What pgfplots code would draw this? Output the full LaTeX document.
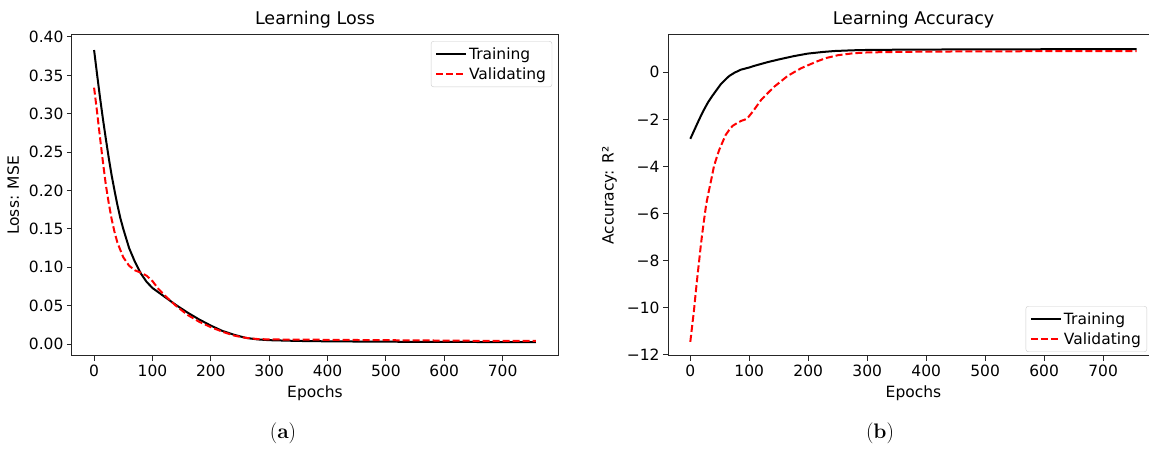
\documentclass[border=0pt]{standalone}
\usepackage{fontspec}
\setsansfont{DejaVu Sans}
\usepackage{pgfplots}
\pgfplotsset{compat=1.18}
\pgfplotsset{
  mpl/.style={
    scale only axis, anchor=south west, height=321pt,
    xmin=-37.85, xmax=794.85,
    tick pos=left, tick align=outside, major tick length=5pt,
    axis line style={black!85, line width=1pt},
    tick style={black!85, line width=1pt},
    tick label style={font=\sffamily\fontsize{15.5}{18}\selectfont},
    label style={font=\sffamily\fontsize{15.5}{18}\selectfont},
    xlabel style={yshift=-3pt},
    ylabel style={yshift=3pt},
    title style={font=\sffamily\fontsize{17.5}{20}\selectfont, yshift=-3pt},
    xtick={0,100,...,700},
    xticklabels={0,100,200,300,400,500,600,700},
    xlabel={Epochs},
    legend cell align=left,
    legend image code/.code={\draw[##1] (0pt,0pt) -- (30pt,0pt);},
    legend style={draw=black!20, rounded corners=2.5pt,
      font=\sffamily\fontsize{15.5}{18}\selectfont,
      inner xsep=4pt, inner ysep=4pt, row sep=3pt},
  },
  trn/.style={black, line width=2pt, no marks},
  val/.style={red, line width=2pt, dash pattern=on 7pt off 3pt, no marks},
}
\begin{document}
\begin{tikzpicture}[x=1pt,y=1pt]
\begin{axis}[mpl, at={(72pt,93pt)}, width=486pt,
  ymin=-0.0156, ymax=0.4026,
  ytick={0,0.05,...,0.4},
  yticklabels={0.00,0.05,0.10,0.15,0.20,0.25,0.30,0.35,0.40},
  ylabel={Loss: MSE},
  title={Learning Loss},
  legend style={at={(0.988,0.981)}, anchor=north east},
]
\addplot[trn] coordinates {
(0,0.383) (5,0.352) (10,0.322) (15,0.294) (20,0.268) (25,0.243) (30,0.220)
(35,0.200) (40,0.181) (45,0.164) (50,0.150) (60,0.125) (70,0.107) (80,0.092)
(90,0.081) (100,0.073) (120,0.062) (140,0.051) (160,0.041) (180,0.032)
(200,0.024) (220,0.017) (240,0.012) (260,0.008) (280,0.006) (300,0.005)
(350,0.004) (400,0.0035) (500,0.003) (600,0.0028) (700,0.0025) (757,0.0024)};
\addlegendentry{Training}
\addplot[val] coordinates {
(0,0.334) (5,0.303) (10,0.270) (15,0.238) (20,0.208) (25,0.184) (30,0.163)
(35,0.146) (40,0.132) (50,0.113) (60,0.102) (70,0.096) (80,0.093) (90,0.089)
(100,0.082) (110,0.072) (120,0.064) (140,0.050) (160,0.038) (180,0.029)
(200,0.022) (220,0.016) (240,0.011) (260,0.008) (280,0.0065) (300,0.006)
(400,0.0055) (500,0.005) (600,0.0045) (700,0.004) (757,0.004)};
\addlegendentry{Validating}
\end{axis}
\begin{axis}[mpl, at={(668pt,93pt)}, width=491pt,
  ymin=-12.05, ymax=1.58,
  ytick={-12,-10,...,0},
  yticklabels={−12,−10,−8,−6,−4,−2,0},
  ylabel={Accuracy: R²},
  title={Learning Accuracy},
  legend style={at={(0.9756,0.0125)}, anchor=south east},
]
\addplot[trn] coordinates {
(0,-2.83) (6,-2.50) (12,-2.17) (18,-1.85) (23,-1.60) (30,-1.28) (37.5,-1.0)
(45,-0.74) (52,-0.50) (60,-0.30) (66,-0.16) (75,-0.02) (86,0.11) (100,0.20)
(108.5,0.27) (130,0.42) (148,0.53) (175,0.68) (199,0.79) (225,0.86)
(245,0.90) (275,0.93) (300,0.945) (350,0.955) (400,0.962) (500,0.97)
(600,0.975) (700,0.977) (757,0.978)};
\addlegendentry{Training}
\addplot[val] coordinates {
(0,-11.45) (3,-10.8) (6.25,-10.1) (9,-9.4) (12,-8.68) (15,-8.0) (17.6,-7.4)
(20,-6.9) (23.3,-6.27) (27,-5.6) (31.8,-5.0) (36,-4.5) (40,-4.0) (45,-3.6)
(49,-3.3) (55,-2.95) (60,-2.66) (66,-2.45) (71.6,-2.28) (80,-2.15) (86,-2.07)
(96,-1.98) (106,-1.67) (120,-1.18) (130,-0.92) (142.6,-0.61) (155,-0.36)
(165,-0.16) (178,0.03) (188,0.17) (200,0.30) (216,0.47) (230,0.60) (250,0.72)
(275,0.80) (300,0.84) (350,0.86) (400,0.875) (500,0.885) (600,0.893)
(700,0.898) (757,0.90)};
\addlegendentry{Validating}
\end{axis}
\node[font=\rmfamily\fontsize{21}{24}\selectfont] at (283pt,16pt) {(\textbf{a})};
\node[font=\rmfamily\fontsize{21}{24}\selectfont] at (880pt,16pt) {(\textbf{b})};
\pgfresetboundingbox
\path[use as bounding box] (0pt,0pt) rectangle (1149pt,449pt);
\end{tikzpicture}
\end{document}
